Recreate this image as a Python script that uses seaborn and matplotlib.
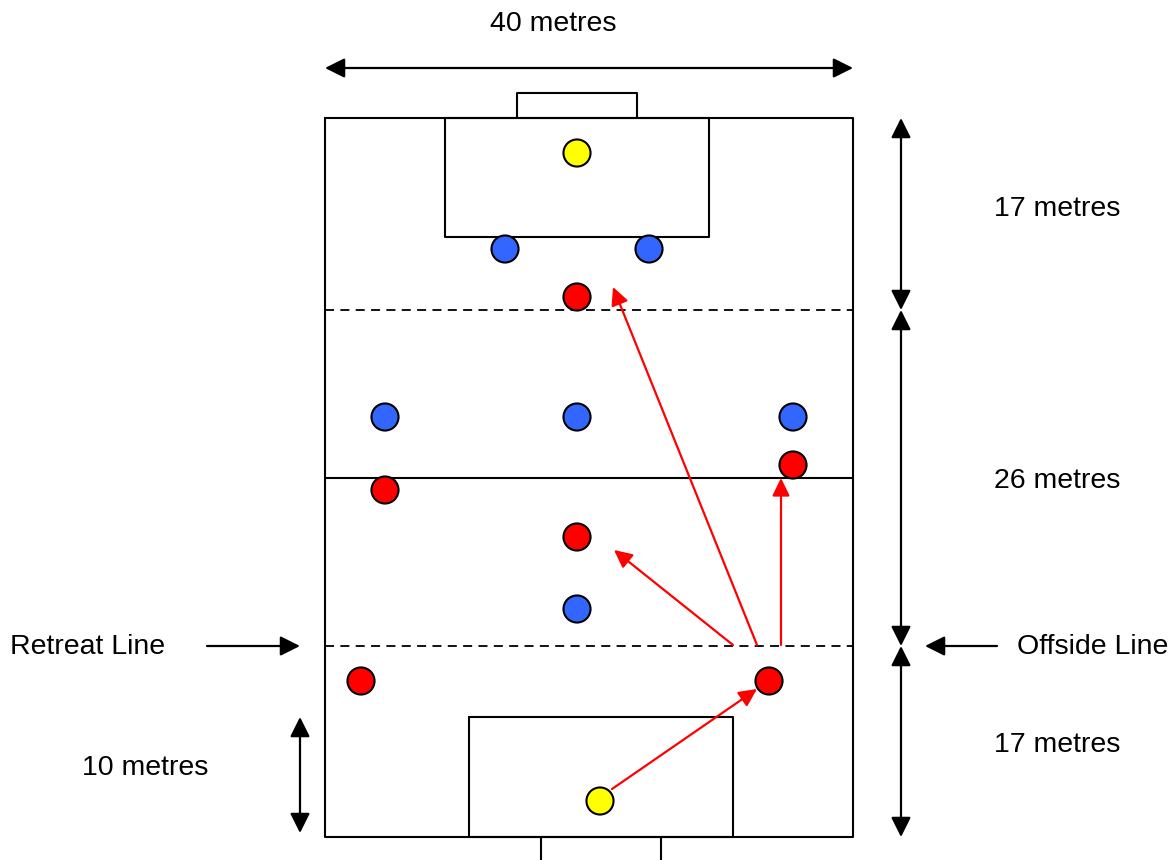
#import required libraries
import pandas as pd
import seaborn as sns
from matplotlib import pyplot as plt
import warnings
warnings.filterwarnings("ignore")

#pitch layout (pixel units of the drawing)
pitch_x = [325, 853]
pitch_y = [118, 837]
top_box_x = [445, 709]
top_box_y = [118, 237]
bottom_box_x = [469, 733]
bottom_box_y = [717, 837]
top_goal_x = [517, 637]
top_goal_y = [93, 118]
bottom_goal_x = [541, 661]
bottom_goal_y = [837, 870]
halfway_y = 478
dashed_y = [310, 646]

#players
keeper_x = [577, 600]
keeper_y = [153, 801]
blue_x = [505, 649, 385, 577, 793, 577]
blue_y = [249, 249, 417, 417, 417, 609]
red_x = [577, 793, 385, 577, 361, 769]
red_y = [297, 465, 490, 537, 681, 681]

#red passing arrows (start -> end)
pass_start = [(612, 789), (757, 645), (733, 645), (781, 645)]
pass_end = [(757, 689), (613, 287), (614, 550), (781, 478)]

#measurement arrows and labels
measure_start = [(325, 68), (901, 118), (901, 310), (901, 646), (300, 717)]
measure_end = [(853, 68), (901, 310), (901, 646), (901, 837), (300, 833)]
measure_labels = ["40 metres", "17 metres", "26 metres", "17 metres", "10 metres"]
label_pos = [(553, 24), (1057, 209), (1057, 481), (1057, 745), (145, 768)]

line_labels = ["Retreat Line", "Offside Line"]
line_label_pos = [(88, 647), (1093, 647)]
line_arrow_start = [(207, 646), (997, 646)]
line_arrow_end = [(300, 646), (925, 646)]

sns.set_style("white")
plt.rcParams['font.family'] = ['Liberation Sans', 'DejaVu Sans']
plt.rcParams['text.color'] = 'black'

fig = plt.figure(figsize=(11.75, 8.6), dpi=100)
ax = fig.add_axes([0, 0, 1, 1])


def rect(xs, ys, **kw):
    ax.plot([xs[0], xs[1], xs[1], xs[0], xs[0]],
            [ys[0], ys[0], ys[1], ys[1], ys[0]], color="black", lw=1.5, **kw)


rect(pitch_x, pitch_y)
rect(top_box_x, top_box_y)
rect(bottom_box_x, bottom_box_y)
ax.plot([top_goal_x[0], top_goal_x[0], top_goal_x[1], top_goal_x[1]],
        [top_goal_y[1], top_goal_y[0], top_goal_y[0], top_goal_y[1]], color="black", lw=1.5)
ax.plot([bottom_goal_x[0], bottom_goal_x[0], bottom_goal_x[1], bottom_goal_x[1]],
        [bottom_goal_y[0], bottom_goal_y[1], bottom_goal_y[1], bottom_goal_y[0]], color="black", lw=1.5)
ax.plot(pitch_x, [halfway_y, halfway_y], color="black", lw=1.5)
for y in dashed_y:
    ax.plot(pitch_x, [y, y], color="black", lw=1.3, dashes=(5, 3.5))

#passing arrows
for s, e in zip(pass_start, pass_end):
    ax.annotate("", xy=e, xytext=s,
                arrowprops=dict(arrowstyle="-|>,head_length=0.45,head_width=0.22",
                                color="red", lw=1.6, shrinkA=0, shrinkB=0,
                                mutation_scale=24))

#players
players = pd.DataFrame({
    "x": keeper_x + blue_x + red_x,
    "y": keeper_y + blue_y + red_y,
    "team": ["keeper"] * len(keeper_x) + ["blue"] * len(blue_x) + ["red"] * len(red_x),
})
sns.scatterplot(data=players, x="x", y="y", hue="team",
                palette={"keeper": "#ffff00", "blue": "#3366ff", "red": "#ff0000"},
                s=380, edgecolor="black", linewidth=1.5, legend=False, ax=ax, zorder=5)
ax.set_xlim(0, 1175)
ax.set_ylim(860, 0)
ax.axis("off")

#measurements
for s, e in zip(measure_start, measure_end):
    ax.annotate("", xy=e, xytext=s,
                arrowprops=dict(arrowstyle="<|-|>,head_length=0.5,head_width=0.25",
                                color="black", lw=1.6, shrinkA=0, shrinkB=0,
                                mutation_scale=24))
for text, (x, y) in zip(measure_labels, label_pos):
    ax.text(x, y, text, fontsize=20.5, ha="center", va="center", color="black")

for text, (x, y) in zip(line_labels, line_label_pos):
    ax.text(x, y, text, fontsize=20.5, ha="center", va="center", color="black")
for s, e in zip(line_arrow_start, line_arrow_end):
    ax.annotate("", xy=e, xytext=s,
                arrowprops=dict(arrowstyle="-|>,head_length=0.5,head_width=0.25",
                                color="black", lw=1.6, shrinkA=0, shrinkB=0,
                                mutation_scale=24))

plt.savefig("out.png", dpi=100)
plt.close()
print("Saved: out.png")
